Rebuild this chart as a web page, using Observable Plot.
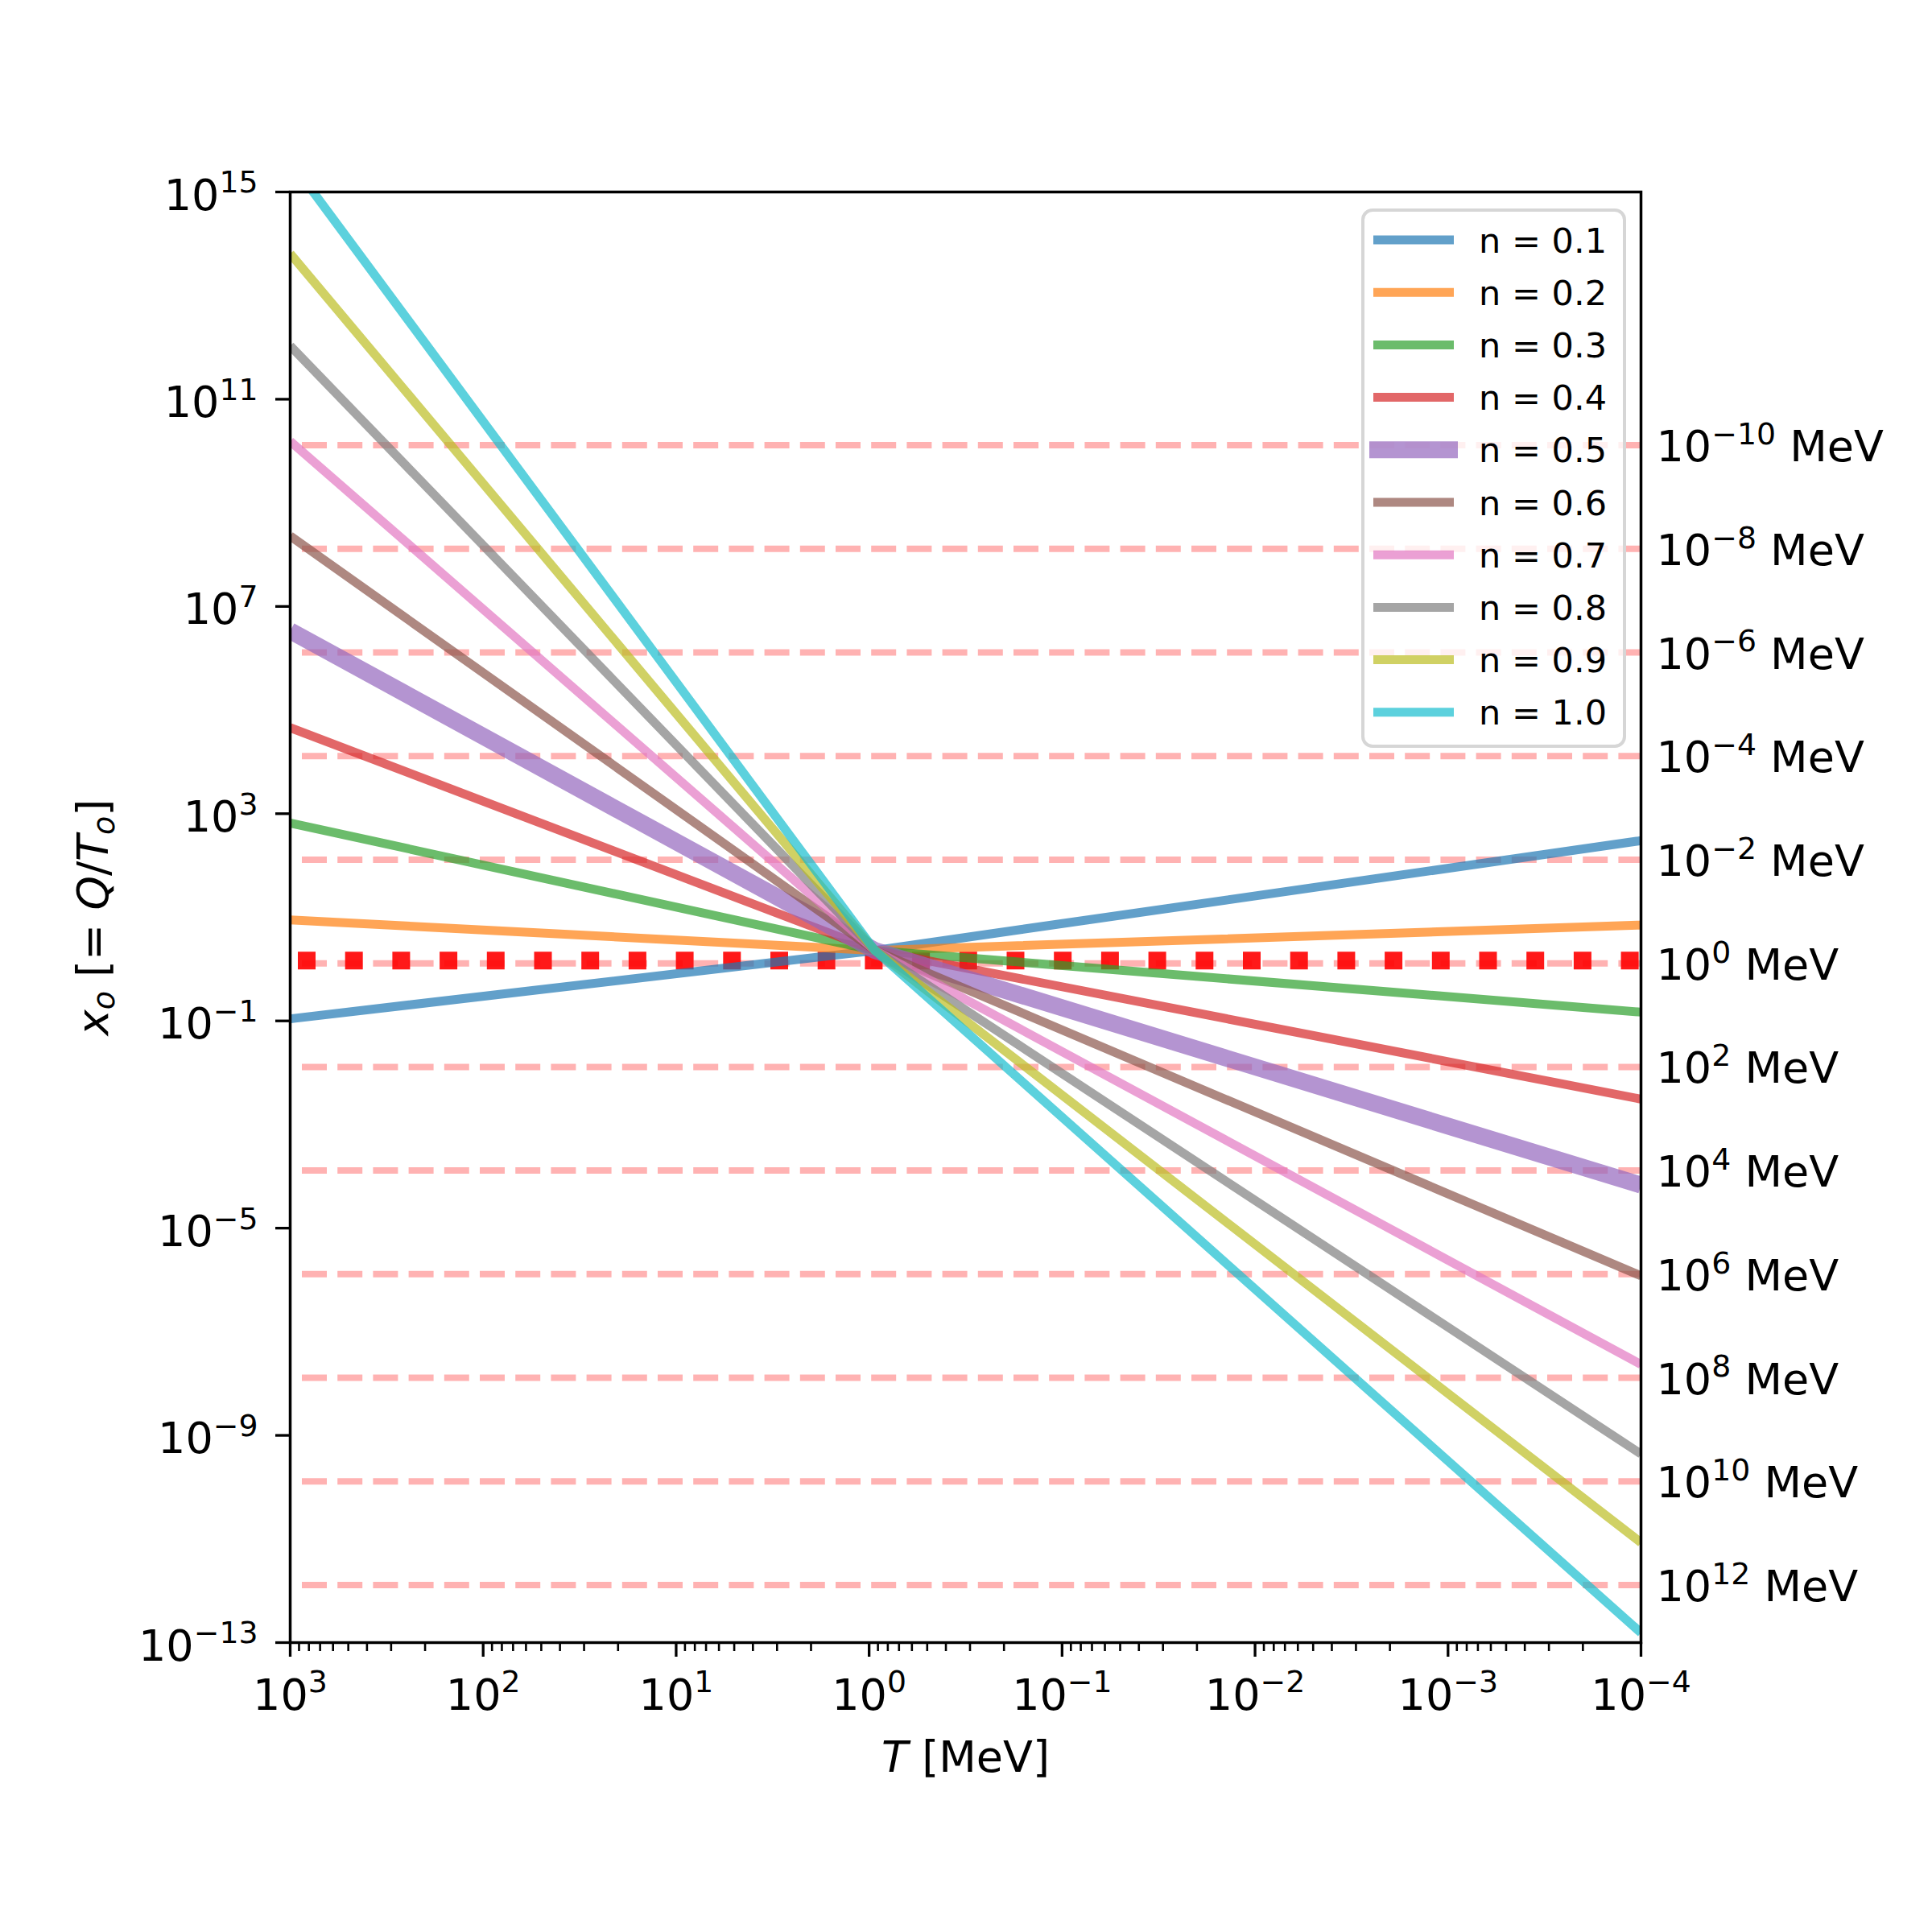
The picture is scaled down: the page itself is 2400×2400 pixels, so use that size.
<!DOCTYPE html>
<html><head><meta charset="utf-8">
<script src="https://cdn.jsdelivr.net/npm/d3@7"></script>
<script src="https://cdn.jsdelivr.net/npm/@observablehq/plot@0.6"></script>
<style>
body{margin:0;background:#fff;}
#wrap{position:relative;width:2400px;height:2400px;background:#fff;}
#legend{position:absolute;left:1691px;top:259px;}
</style></head><body><div id="wrap"></div>
<script>
// ---- data ----
const nValues = [0.1, 0.2, 0.3, 0.4, 0.5, 0.6, 0.7, 0.8, 0.9, 1.0];
const colors = ["#1f77b4","#ff7f0e","#2ca02c","#d62728","#9467bd","#8c564b","#e377c2","#7f7f7f","#bcbd22","#17becf"];
// log10 of x_o at T = 10^3 MeV (left edge)
const logXoAtT1e3 = [-0.96, 0.95, 2.82, 4.66, 6.53, 8.36, 10.19, 12.03, 13.81, 15.6];
// log10 of x_o at the common crossing point
const logTCross = -0.03;
const logXoCross = 0.36;
// log10 of x_o at T = 10^-4 MeV (right edge)
const logXoAtT1e4 = [2.48, 0.85, -0.83, -2.51, -4.17, -5.92, -7.63, -9.36, -11.07, -12.81];
const Q = 1.293;                     // MeV
const refToExp = [-10, -8, -6, -4, -2, 0, 2, 4, 6, 8, 10, 12]; // T_o = 10^k MeV
const dottedXo = 1.46;
const xMajorExp = [3, 2, 1, 0, -1, -2, -3, -4];
const yMajorExp = [15, 11, 7, 3, -1, -5, -9, -13];

// ---- build tables ----
const series = nValues.map((n, i) => [
  {T: 1e3, xo: 10 ** logXoAtT1e3[i], n},
  {T: 10 ** logTCross, xo: 10 ** logXoCross, n},
  {T: 1e-4, xo: 10 ** logXoAtT1e4[i], n}
]);
const refY = refToExp.map(k => ({k, y: Q / 10 ** k}));
const xMinor = [];
for (let d = -4; d < 3; d++) for (let k = 2; k <= 9; k++) xMinor.push(k * 10 ** d);
const fmtExp = e => (e < 0 ? "\u2212" + (-e) : "" + e);

const FS = 54;
const plot = Plot.plot({
  width: 2400, height: 2400,
  marginLeft: 360, marginRight: 362, marginTop: 238, marginBottom: 360,
  style: {fontFamily: "DejaVu Sans", background: "white", overflow: "visible"},
  x: {type: "log", domain: [1e3, 1e-4]},
  y: {type: "log", domain: [1e-13, 1e15]},
  marks: [
    Plot.ruleY(refY, {y: "y", stroke: "red", strokeOpacity: 0.3, strokeWidth: 8, strokeDasharray: "31,13.2", strokeDashoffset: 29.2}),
    Plot.ruleY([dottedXo], {stroke: "red", strokeOpacity: 0.9, strokeWidth: 22, strokeDasharray: "22,36.7", strokeDashoffset: 48.7}),
    ...series.map((s, i) => Plot.line(s, {
      x: "T", y: "xo", stroke: colors[i], strokeOpacity: 0.7,
      strokeWidth: nValues[i] === 0.5 ? 21 : 11, clip: true,
      strokeLinecap: "butt", strokeLinejoin: "round"
    })),
    Plot.frame({stroke: "black", strokeWidth: 3.5}),
    Plot.axisX({ticks: xMinor, anchor: "bottom", tickSize: 11, strokeWidth: 2.6, tickFormat: () => "", label: null}),
    Plot.axisX({ticks: xMajorExp.map(e => 10 ** e), anchor: "bottom", tickSize: 18, strokeWidth: 3.3, tickFormat: () => "", label: null}),
    Plot.axisY({ticks: yMajorExp.map(e => 10 ** e), anchor: "left", tickSize: 18, strokeWidth: 3.3, tickFormat: () => "", label: null}),
    Plot.text(xMajorExp, {x: e => 10 ** e, frameAnchor: "bottom", dy: 83, lineAnchor: "bottom", textAnchor: "middle", fontSize: FS, text: e => "10^" + fmtExp(e)}),
    Plot.text(yMajorExp, {y: e => 10 ** e, frameAnchor: "left", dx: -40, dy: 22, lineAnchor: "bottom", textAnchor: "end", fontSize: FS, text: e => "10^" + fmtExp(e)}),
    Plot.text(refY, {y: "y", frameAnchor: "right", dx: 19, dy: 20, lineAnchor: "bottom", textAnchor: "start", fontSize: FS, text: d => "10^" + fmtExp(d.k) + " MeV"}),
    Plot.text([0], {frameAnchor: "left", dx: -227, rotate: -90, lineAnchor: "bottom", textAnchor: "middle", fontSize: FS, text: () => "__YLABEL__"}),
    Plot.text([0], {frameAnchor: "bottom", dy: 160, lineAnchor: "bottom", textAnchor: "middle", fontSize: FS, text: () => "__XLABEL__"})
  ]
});
document.getElementById("wrap").appendChild(plot);

// ---- rich text (superscripts, italics) ----
function rich(el, parts, fs) {
  const s = d3.select(el); s.text(null);
  let shift = 0;
  for (const p of parts) {
    const want = p.sup ? -0.39 * fs : p.sub ? 0.165 * fs : 0;
    const ts = s.append("tspan").text(p.t);
    if (want !== shift) { ts.attr("dy", want - shift); shift = want; }
    if (p.sup || p.sub) ts.attr("font-size", "0.7em");
    if (p.it) ts.attr("font-style", "italic");
  }
}
plot.querySelectorAll("text").forEach(el => {
  const t = el.textContent;
  let m;
  if (t === "__YLABEL__") {
    rich(el, [{t: "x", it: 1}, {t: "o", it: 1, sub: 1}, {t: " [= "}, {t: "Q", it: 1}, {t: "/"}, {t: "T", it: 1}, {t: "o", it: 1, sub: 1}, {t: "]"}], FS);
  } else if (t === "__XLABEL__") {
    rich(el, [{t: "T", it: 1}, {t: " [MeV]"}], FS);
  } else if ((m = t.match(/^10\^(\S+)(.*)$/))) {
    const parts = [{t: "10"}, {t: m[1], sup: 1}];
    if (m[2]) parts.push({t: m[2]});
    rich(el, parts, FS);
  }
});

// ---- legend ----
const L = d3.select("#wrap").append("svg").attr("id", "legend")
  .attr("width", 330).attr("height", 672)
  .style("font-family", "DejaVu Sans");
L.append("rect").attr("x", 2).attr("y", 2).attr("width", 325).attr("height", 666)
  .attr("rx", 12).attr("fill", "white").attr("fill-opacity", 0.8)
  .attr("stroke", "#d6d6d6").attr("stroke-width", 4);
nValues.forEach((n, i) => {
  const cy = 39 + 65.2 * i;
  L.append("line").attr("x1", 20.5).attr("x2", 109.5).attr("y1", cy).attr("y2", cy)
    .attr("stroke", colors[i]).attr("stroke-opacity", 0.7)
    .attr("stroke-width", n === 0.5 ? 21 : 11).attr("stroke-linecap", "square");
  L.append("text").attr("x", 146).attr("y", cy + 15.6).attr("font-size", 43)
    .attr("fill", "black").text("n = " + n.toFixed(1));
});
</script></body></html>
